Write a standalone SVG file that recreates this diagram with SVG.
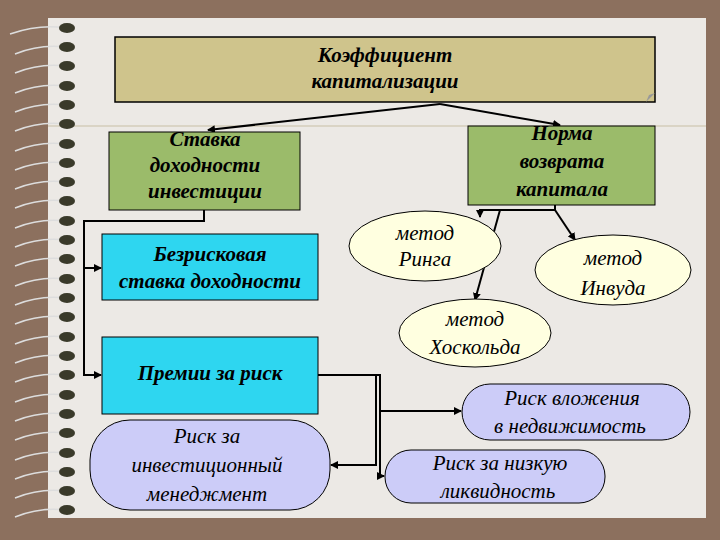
<svg xmlns="http://www.w3.org/2000/svg" width="720" height="540" viewBox="0 0 720 540">
<defs>
<marker id="ah" markerWidth="8" markerHeight="8" refX="7" refY="4" orient="auto" markerUnits="userSpaceOnUse"><path d="M0,0 L8,4 L0,8 z" fill="#000"/></marker>
<style>
.t{font-family:"Liberation Serif",serif;font-style:italic;font-size:21px;fill:#000;text-anchor:middle}
.b{font-weight:bold}
.c{stroke:#000;stroke-width:2;fill:none}
.ring{fill:#3a3a2a}
</style>
</defs>
<rect width="720" height="540" fill="#8C705E"/>
<rect x="48" y="18" width="658" height="500" fill="#ECE9E5"/>
<line x1="48" y1="126" x2="706" y2="126" stroke="#c8bfa5" stroke-width="1"/>
<g id="spiral">
<g stroke="#ddd" stroke-width="1.5" fill="none">
<path d="M10,34 Q40,24 65,28"/><path d="M15,54 Q40,44 65,47"/><path d="M15,73 Q40,63 65,66"/><path d="M15,93 Q40,83 65,86"/><path d="M15,112 Q40,102 65,105"/><path d="M15,131 Q40,121 65,124"/><path d="M15,151 Q40,141 65,144"/><path d="M15,170 Q40,160 65,163"/><path d="M15,189 Q40,179 65,182"/><path d="M15,208 Q40,198 65,201"/><path d="M15,228 Q40,218 65,221"/><path d="M15,247 Q40,237 65,240"/><path d="M15,266 Q40,256 65,259"/><path d="M15,286 Q40,276 65,279"/><path d="M15,305 Q40,295 65,298"/><path d="M15,324 Q40,314 65,317"/><path d="M15,344 Q40,334 65,337"/><path d="M15,363 Q40,353 65,356"/><path d="M15,382 Q40,372 65,375"/><path d="M15,402 Q40,392 65,395"/><path d="M15,421 Q40,411 65,414"/><path d="M15,440 Q40,430 65,433"/><path d="M15,460 Q40,450 65,453"/><path d="M15,479 Q40,469 65,472"/><path d="M15,498 Q40,488 65,491"/><path d="M15,517 Q40,507 65,510"/>
</g>
<g class="ring">
<ellipse cx="67" cy="28" rx="8" ry="5"/><ellipse cx="67" cy="47" rx="8" ry="5"/><ellipse cx="67" cy="66" rx="8" ry="5"/><ellipse cx="67" cy="86" rx="8" ry="5"/><ellipse cx="67" cy="105" rx="8" ry="5"/><ellipse cx="67" cy="124" rx="8" ry="5"/><ellipse cx="67" cy="144" rx="8" ry="5"/><ellipse cx="67" cy="163" rx="8" ry="5"/><ellipse cx="67" cy="182" rx="8" ry="5"/><ellipse cx="67" cy="201" rx="8" ry="5"/><ellipse cx="67" cy="221" rx="8" ry="5"/><ellipse cx="67" cy="240" rx="8" ry="5"/><ellipse cx="67" cy="259" rx="8" ry="5"/><ellipse cx="67" cy="279" rx="8" ry="5"/><ellipse cx="67" cy="298" rx="8" ry="5"/><ellipse cx="67" cy="317" rx="8" ry="5"/><ellipse cx="67" cy="337" rx="8" ry="5"/><ellipse cx="67" cy="356" rx="8" ry="5"/><ellipse cx="67" cy="375" rx="8" ry="5"/><ellipse cx="67" cy="395" rx="8" ry="5"/><ellipse cx="67" cy="414" rx="8" ry="5"/><ellipse cx="67" cy="433" rx="8" ry="5"/><ellipse cx="67" cy="453" rx="8" ry="5"/><ellipse cx="67" cy="472" rx="8" ry="5"/><ellipse cx="67" cy="491" rx="8" ry="5"/><ellipse cx="67" cy="510" rx="8" ry="5"/>
</g>
</g>
<g id="connectors" class="c">
<path d="M440,104 L208,130" marker-end="url(#ah)"/>
<path d="M440,104 L560,125" marker-end="url(#ah)"/>
<path d="M204,210 L204,221 L84,221 L84,375 L101,375" marker-end="url(#ah)"/>
<path d="M84,268 L101,268" marker-end="url(#ah)"/>
<path d="M555,205 L555,210 L480,210 L480,217" marker-end="url(#ah)"/>
<path d="M555,210 L575,240" marker-end="url(#ah)"/>
<path d="M500,210 L475,300" marker-end="url(#ah)"/>
<path d="M318,375 L380,375 L380,411 L461,411" marker-end="url(#ah)"/>
<path d="M376,375 L376,465 L331,465" marker-end="url(#ah)"/>
<path d="M380,375 L380,476 L384,476" marker-end="url(#ah)"/>
</g>
<g id="n-koef"><rect x="115" y="37" width="540" height="65" fill="#CFC48C" stroke="#000" stroke-width="1.5"/><path d="M646,102 L655,93 L649,95 Z" fill="#999"/><text class="t b" x="385" y="62">Коэффициент</text><text class="t b" x="385" y="88">капитализации</text></g>
<g id="n-stavka"><rect x="109" y="132" width="191" height="78" fill="#9BBB6A" stroke="#000" stroke-width="1"/><text class="t b" x="205" y="146">Ставка</text><text class="t b" x="205" y="172">доходности</text><text class="t b" x="205" y="198">инвестиции</text></g>
<g id="n-norma"><rect x="468" y="126" width="187" height="79" fill="#9BBB6A" stroke="#000" stroke-width="1"/><text class="t b" x="562" y="140">Норма</text><text class="t b" x="562" y="168">возврата</text><text class="t b" x="562" y="196">капитала</text></g>
<g id="n-bezrisk"><rect x="102" y="234" width="216" height="66" fill="#2ED6F0" stroke="#000" stroke-width="1"/><text class="t b" x="210" y="261" font-size="20">Безрисковая</text><text class="t b" x="210" y="288" font-size="20">ставка доходности</text></g>
<g id="n-premii"><rect x="102" y="337" width="216" height="77" fill="#2ED6F0" stroke="#000" stroke-width="1"/><text class="t b" x="210" y="380" font-size="20">Премии за риск</text></g>
<g id="n-ring"><ellipse cx="425" cy="246" rx="76" ry="35" fill="#FFFFE0" stroke="#000" stroke-width="1"/><text class="t" x="425" y="240">метод</text><text class="t" x="425" y="266">Ринга</text></g>
<g id="n-invud"><ellipse cx="613" cy="270" rx="78" ry="35" fill="#FFFFE0" stroke="#000" stroke-width="1"/><text class="t" x="613" y="265">метод</text><text class="t" x="613" y="295">Инвуда</text></g>
<g id="n-hosk"><ellipse cx="475" cy="333" rx="76" ry="34" fill="#FFFFE0" stroke="#000" stroke-width="1"/><text class="t" x="475" y="326">метод</text><text class="t" x="475" y="354">Хоскольда</text></g>
<g id="n-vlozh"><rect x="462" y="384" width="228" height="56" rx="28" fill="#CCCCF8" stroke="#000" stroke-width="1"/><text class="t" x="572" y="405">Риск вложения</text><text class="t" x="570" y="433">в недвижимость</text></g>
<g id="n-likv"><rect x="385" y="450" width="220" height="53" rx="26" fill="#CCCCF8" stroke="#000" stroke-width="1"/><text class="t" x="500" y="470">Риск за низкую</text><text class="t" x="498" y="498">ликвидность</text></g>
<g id="n-menedzh"><rect x="90" y="420" width="240" height="90" rx="40" fill="#CCCCF8" stroke="#000" stroke-width="1"/><text class="t" x="207" y="443">Риск за</text><text class="t" x="207" y="472">инвестиционный</text><text class="t" x="207" y="501">менеджмент</text></g>
</svg>
